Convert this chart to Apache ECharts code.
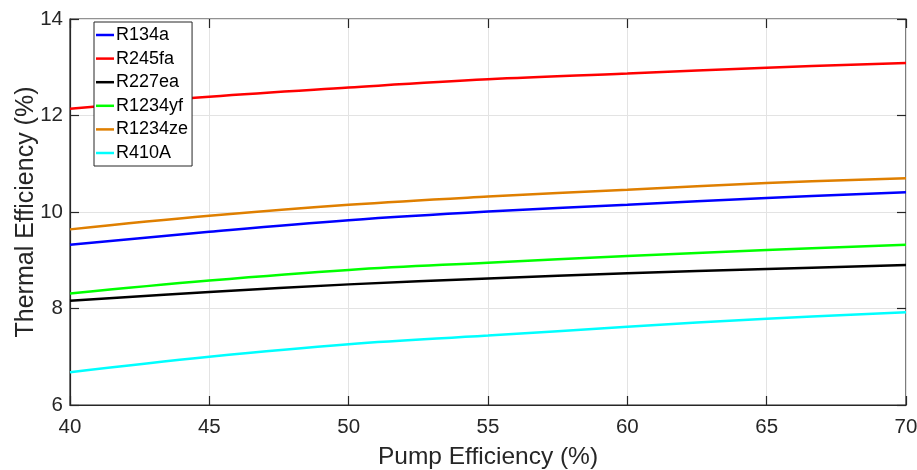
<!DOCTYPE html>
<html>
<head>
<meta charset="utf-8">
<script src="https://cdn.jsdelivr.net/npm/echarts@6/dist/echarts.min.js"></script>
<style>
  html, body { margin: 0; padding: 0; background: #fff; }
  #chart { width: 917px; height: 470px; }
</style>
</head>
<body>
<div id="chart"></div>
<script>
// Pump efficiency (%) sample points
const pumpEff = [40, 45, 50, 55, 60, 65, 70];

// Thermal efficiency (%) for each working fluid
const r134a   = [9.32, 9.59, 9.83, 10.01, 10.15, 10.29, 10.41];
const r245fa  = [12.14, 12.39, 12.58, 12.75, 12.87, 12.99, 13.09];
const r227ea  = [8.16, 8.34, 8.50, 8.62, 8.73, 8.82, 8.90];
const r1234yf = [8.31, 8.58, 8.80, 8.95, 9.09, 9.21, 9.32];
const r1234ze = [9.64, 9.92, 10.15, 10.32, 10.46, 10.60, 10.70];
const r410a   = [6.68, 7.00, 7.26, 7.44, 7.62, 7.79, 7.92];

const seriesNames = ['R134a', 'R245fa', 'R227ea', 'R1234yf', 'R1234ze', 'R410A'];
const seriesData = [r134a, r245fa, r227ea, r1234yf, r1234ze, r410a];
const seriesColors = ['#0000ff', '#ff0000', '#000000', '#00ff00', '#df7f00', '#00ffff'];

const axisColor = '#262626';
const fontFamily = '"Liberation Sans", Arial, sans-serif';

const chart = echarts.init(document.getElementById('chart'), null, { renderer: 'canvas' });

const series = seriesNames.map((name, i) => ({
  name: name,
  type: 'line',
  data: pumpEff.map((x, j) => [x, seriesData[i][j]]),
  smooth: 0.4,
  showSymbol: false,
  lineStyle: { color: seriesColors[i], width: 2.5 },
  itemStyle: { color: seriesColors[i] },
  xAxisIndex: 0,
  yAxisIndex: 0,
  z: 3
}));

chart.setOption({
  animation: false,
  backgroundColor: '#ffffff',
  grid: {
    left: 70, right: 11, top: 19, bottom: 65,
    containLabel: false,
    outerBoundsMode: 'none',
    show: true, borderColor: axisColor, borderWidth: 1.2, backgroundColor: 'transparent'
  },
  legend: {
    orient: 'vertical',
    left: 94, top: 22,
    data: seriesNames,
    icon: 'rect',
    itemWidth: 18, itemHeight: 2.5,
    itemGap: 5.6,
    padding: [4, 4, 4, 2],
    backgroundColor: '#ffffff',
    borderColor: axisColor, borderWidth: 1,
    textStyle: { fontFamily: fontFamily, fontSize: 18, color: '#000', padding: [0, 0, 0, -3] }
  },
  xAxis: [{
    type: 'value', min: 40, max: 70, interval: 5,
    name: 'Pump Efficiency (%)', nameLocation: 'middle', nameGap: 40,
    nameMoveOverlap: false,
    nameTextStyle: { fontFamily: fontFamily, fontSize: 24.5, color: axisColor },
    axisLine: { show: true, lineStyle: { color: axisColor, width: 1.2 } },
    axisTick: { show: true, inside: true, length: 9, lineStyle: { color: axisColor, width: 1.2 } },
    axisLabel: { fontFamily: fontFamily, fontSize: 20.5, color: axisColor, margin: 12 },
    splitLine: { show: true, lineStyle: { color: '#e3e3e3', width: 1 } }
  }, {
    type: 'value', min: 40, max: 70, interval: 5, position: 'top',
    axisLine: { show: false },
    axisTick: { show: true, inside: true, length: 9, lineStyle: { color: axisColor, width: 1.2 } },
    axisLabel: { show: false }, splitLine: { show: false }
  }],
  yAxis: [{
    type: 'value', min: 6, max: 14, interval: 2,
    name: 'Thermal Efficiency (%)', nameLocation: 'middle', nameGap: 31,
    nameMoveOverlap: false,
    nameTextStyle: { fontFamily: fontFamily, fontSize: 25, color: axisColor },
    axisLine: { show: true, lineStyle: { color: axisColor, width: 1.2 } },
    axisTick: { show: true, inside: true, length: 9, lineStyle: { color: axisColor, width: 1.2 } },
    axisLabel: { fontFamily: fontFamily, fontSize: 20.5, color: axisColor, margin: 7 },
    splitLine: { show: true, lineStyle: { color: '#e3e3e3', width: 1 } }
  }, {
    type: 'value', min: 6, max: 14, interval: 2, position: 'right',
    axisLine: { show: false },
    axisTick: { show: true, inside: true, length: 9, lineStyle: { color: axisColor, width: 1.2 } },
    axisLabel: { show: false }, splitLine: { show: false }
  }],
  series: series
});
</script>
</body>
</html>
